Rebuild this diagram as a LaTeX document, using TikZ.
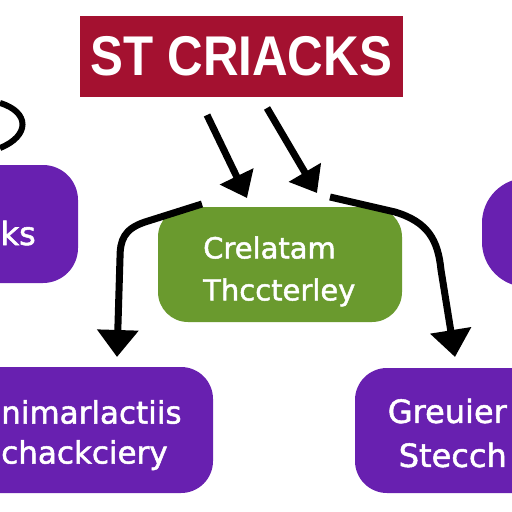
\documentclass[tikz,border=0pt]{standalone}
\usepackage{fontspec}
\usepackage{graphicx}
\setmainfont{DejaVu Sans}
\newfontfamily\heavy{DejaVu Sans}[FakeBold=1.6]
\newfontfamily\titlefont{Liberation Sans}
\usetikzlibrary{arrows.meta}
\definecolor{crim}{RGB}{164,17,48}
\definecolor{purp}{RGB}{104,32,176}
\definecolor{leaf}{RGB}{106,154,46}
\begin{document}
\begin{tikzpicture}[x=1pt,y=-1pt,
  pbox/.style={fill=purp, inner sep=0pt},
  gbox/.style={fill=leaf, inner sep=0pt, rounded corners=30pt},
  txt/.style={text=white, inner sep=0pt},
  arr/.style={line width=7pt, -{Triangle[length=24pt,width=36pt]}},
  bigarr/.style={line width=7pt, line join=round, -{Triangle[length=27pt,width=40pt]}}]
\useasboundingbox (0,0) rectangle (512,512);
\clip (0,0) rectangle (512,512);
\fill[white] (0,0) rectangle (512,512);
% title
\node[fill=crim, minimum width=323pt, minimum height=81pt, inner sep=0pt, text=white,
  font=\titlefont\bfseries\fontsize{56}{56}\selectfont] (title) at (241.5,56.5)
  {\scalebox{0.88}[1]{ST CRIACKS}};
% boxes
\node[pbox, rounded corners=35pt, minimum width=120pt, minimum height=118pt] (tl) at (18,224) {};
\node[pbox, rounded corners=45pt, minimum width=118pt, minimum height=109pt] (tr) at (541,232.5) {};
\node[gbox, minimum width=244pt, minimum height=115pt] (mid) at (280,264.5) {};
\node[pbox, rounded corners=32pt, minimum width=253pt, minimum height=126pt] (bl) at (86.5,430) {};
\node[pbox, rounded corners=32pt, minimum width=245pt, minimum height=125pt] (br) at (477.5,430.5) {};
% texts
\node[txt, font=\heavy\fontsize{32}{32}\selectfont, anchor=base east] (tltext) at (36,245) {ks};
\node[txt, font=\heavy\fontsize{29}{42}\selectfont, align=left, anchor=west] (midtext) at (203,271.4) {Crelatam\\Thccterley};
\node[txt, font=\heavy\fontsize{31}{40}\selectfont, align=left, anchor=west] (bltext) at (1,435) {nimarlactiis\\chackciery};
\node[txt, font=\heavy\fontsize{32}{44}\selectfont, align=right, anchor=east] (brtext) at (507,433) {Greuier\\Stecch};
% connector end points
\coordinate (a1s) at (207,115);
\coordinate (a1e) at (247,198);
\coordinate (a2s) at (267,108);
\coordinate (a2e) at (317,193);
\coordinate (ls) at (202,204);
\coordinate (le) at (117,357);
\coordinate (rs) at (330,197);
\coordinate (re) at (455,357);
\coordinate (cs) at (0,103);
\coordinate (ce) at (0,148);
% arrows
\draw[arr] (a1s) -- (a1e);
\draw[arr] (a2s) -- (a2e);
\draw[bigarr] (ls) -- (145,222) .. controls (124,229) and (120,240) .. (120,258) -- (le);
\draw[bigarr] (rs) -- (395,212) .. controls (428,222) and (438,240) .. (441,270) -- (re);
\draw[line width=6pt] (cs) .. controls (30,112) and (30,136) .. (ce);
\end{tikzpicture}
\end{document}
